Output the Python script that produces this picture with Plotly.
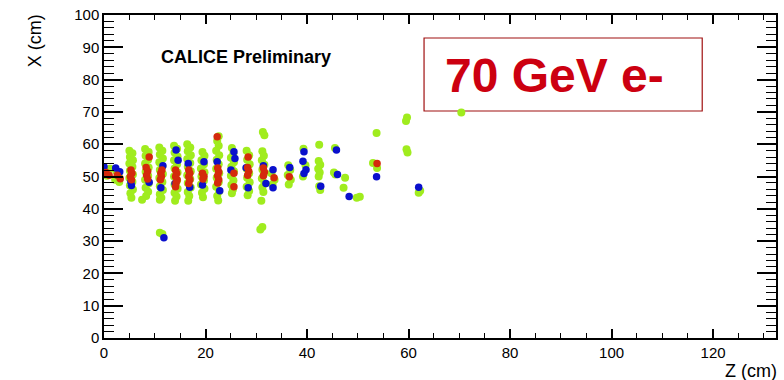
import plotly.graph_objects as go

# ---- data (Z, X in cm) ----
green_z = [0.0, 0.6, 1.2, 2.2, 2.9, 3.0, 2.4,
           5.0, 5.6, 5.1, 5.7, 5.0, 5.6, 5.1, 5.7, 5.0, 5.6, 5.1, 5.7, 5.2, 5.4,
           8.1, 8.8, 8.2, 8.7, 8.1, 8.8, 8.2, 8.7, 8.1, 8.8, 8.2, 8.7, 8.3, 7.5,
           10.9, 11.5, 11.0, 11.6, 10.9, 11.5, 11.0, 11.6, 10.9, 11.5, 11.0, 11.6, 11.0, 11.3, 11.0,
           13.8, 14.4, 13.9, 14.5, 13.8, 14.4, 13.9, 14.5, 13.8, 14.4, 13.9, 14.5, 13.9, 14.3, 14.0,
           16.4, 17.0, 16.5, 17.1, 16.4, 17.0, 16.5, 17.1, 16.4, 17.0, 16.5, 17.1, 16.5, 16.8, 16.6,
           19.4, 19.8, 19.2, 19.7, 19.1, 19.8, 19.2, 19.7, 19.1, 19.8, 19.3, 19.5,
           22.6, 22.3, 22.6, 22.1, 22.7, 22.2, 22.6, 22.1, 22.7, 22.2, 22.6, 22.1, 22.7, 22.3, 22.5,
           25.2, 25.5, 25.0, 25.6, 25.1, 25.6, 25.0, 25.5, 25.1, 25.4, 25.2,
           28.1, 28.6, 28.2, 28.7, 28.1, 28.6, 28.2, 28.7, 28.1, 28.6, 28.3,
           31.3, 31.6, 31.2, 31.5, 31.1, 31.6, 31.2, 31.5, 31.1, 31.6, 31.2, 31.4, 31.0,
           33.0, 33.6, 33.2,
           36.3, 36.7, 36.2, 36.8, 36.4,
           39.3, 39.7, 39.2,
           42.4, 42.3, 42.6, 42.2, 42.5, 42.3, 42.4, 42.6,
           45.5, 45.3, 45.6,
           47.5, 47.2,
           50.4, 49.8,
           53.7, 53.0, 53.8,
           59.7, 59.5, 59.6, 59.8,
           62.3, 62.0,
           70.4,
           11.0, 11.5, 31.2, 30.8]
green_x = [51.5, 50.2, 52.4, 49.0, 50.5, 48.3, 51.8,
           58.0, 57.2, 56.0, 55.0, 54.0, 53.0, 51.8, 50.6, 49.5, 48.4, 47.2, 46.0, 44.8, 43.4,
           58.5, 57.6, 56.4, 55.2, 54.0, 52.8, 51.5, 50.2, 49.0, 47.8, 46.5, 45.3, 44.0, 42.8,
           59.0, 58.0, 56.8, 55.6, 54.4, 53.2, 52.0, 50.8, 49.5, 48.3, 47.0, 45.8, 44.5, 43.4, 42.8,
           59.5, 58.6, 57.4, 56.2, 55.0, 53.8, 52.5, 51.2, 50.0, 48.8, 47.5, 46.2, 45.0, 43.8, 42.5,
           60.0, 59.0, 57.8, 56.6, 55.4, 54.2, 53.0, 51.6, 50.4, 49.2, 48.0, 46.6, 45.2, 44.0, 42.5,
           57.6, 56.4, 55.0, 53.8, 52.5, 51.3, 50.0, 48.8, 47.5, 46.2, 45.0, 43.6,
           62.5, 61.0, 59.5, 58.0, 56.6, 55.2, 53.8, 52.4, 51.0, 49.6, 48.2, 46.8, 45.4, 44.0, 42.6,
           58.8, 57.2, 55.8, 54.4, 53.0, 51.6, 50.2, 48.8, 47.4, 46.0, 44.8,
           58.0, 56.6, 55.2, 53.8, 52.4, 51.0, 49.6, 48.2, 46.8, 45.5, 44.2,
           63.8, 62.8, 57.8, 56.4, 55.0, 53.6, 52.2, 50.8, 49.4, 48.0, 46.6, 45.2, 42.5,
           51.0, 49.0, 47.5,
           53.5, 52.0, 50.5, 49.0, 47.5,
           58.6, 53.5, 50.0,
           59.8, 54.8, 53.6, 52.4, 51.2, 50.0, 47.0, 45.8,
           58.8, 51.2, 50.6,
           49.6, 46.5,
           43.7, 43.4,
           63.5, 54.2, 52.6,
           68.3, 67.2, 58.4, 57.4,
           45.6, 45.0,
           69.8,
           32.6, 32.2, 34.4, 33.6]

blue_z = [0.0, 2.3, 3.1, 5.3, 5.4, 8.9, 11.6, 11.2, 14.2, 14.6, 14.0, 16.9, 16.6,
          19.7, 19.4, 22.3, 22.8, 25.6, 25.0, 25.8, 28.0, 28.4, 31.4, 31.9, 33.3, 33.3,
          36.6, 39.4, 39.2, 39.8, 39.4, 42.7, 45.8, 46.0, 48.3, 53.7, 62.0, 11.8]
blue_x = [53.0, 52.6, 51.5, 48.4, 47.2, 48.2, 53.3, 46.5, 58.2, 55.0, 47.8, 46.7, 54.0,
          54.6, 47.4, 54.6, 45.6, 57.7, 52.0, 55.6, 52.7, 46.5, 53.3, 47.8, 52.1, 46.5,
          52.8, 57.7, 54.7, 52.1, 50.9, 47.0, 58.2, 50.6, 43.8, 49.9, 46.7, 31.0]

red_z = [0.4, 1.0, 2.6, 3.2,
         5.3, 5.5, 5.2, 5.4,
         8.9, 8.3, 8.6, 8.4, 8.6,
         11.4, 11.2, 11.3, 11.1,
         14.1, 14.3, 14.1, 14.4, 14.2, 14.1,
         16.7, 16.9, 16.7, 16.9, 16.7,
         19.4, 19.7, 19.5,
         22.3, 22.4, 22.6, 22.4, 22.6, 22.4,
         25.6, 25.6,
         28.4, 28.3, 28.5, 28.3,
         31.4, 31.6, 31.4,
         33.5, 36.5, 53.8]
red_x = [51.2, 50.4, 50.4, 49.3,
         52.0, 51.0, 50.0, 49.0,
         56.0, 52.8, 51.6, 50.4, 49.2,
         52.0, 51.0, 50.0, 49.0,
         52.0, 51.0, 50.0, 49.0, 48.0, 46.8,
         52.0, 51.0, 50.0, 49.0, 47.8,
         51.0, 50.0, 49.2,
         62.3, 52.6, 51.4, 50.2, 49.0, 48.0,
         51.0, 46.8,
         56.0, 52.8, 51.6, 50.4,
         52.6, 51.4, 50.2,
         49.6, 49.9, 54.0]

FONT = "Liberation Sans, Arial, Helvetica, sans-serif"

fig = go.Figure()
fig.add_trace(go.Scatter(x=green_z, y=green_x, mode="markers",
                         marker=dict(size=8, color="#a0ec1e"), hoverinfo="skip"))
fig.add_trace(go.Scatter(x=blue_z, y=blue_x, mode="markers",
                         marker=dict(size=7.5, color="#0a10cc"), hoverinfo="skip"))
fig.add_trace(go.Scatter(x=red_z, y=red_x, mode="markers",
                         marker=dict(size=7.5, color="#d42a0c"), hoverinfo="skip"))

W, H = 784, 380
L, R, T, B = 104, 6, 15, 42
pw, ph = W - L - R, H - T - B

def px(xp):
    return (xp - L) / pw

def py(yp):
    return (H - B - yp) / ph

fig.update_layout(
    width=W, height=H,
    margin=dict(l=L, r=R, t=T, b=B),
    plot_bgcolor="white", paper_bgcolor="white",
    showlegend=False,
    font=dict(family=FONT, size=14, color="black"),
    xaxis=dict(range=[0, 132.4], dtick=20, tick0=0, ticks="inside", ticklen=9,
               tickwidth=1.5, tickcolor="black", showline=True, linecolor="black",
               linewidth=1.5, mirror="ticks", showgrid=False, zeroline=False,
               tickfont=dict(size=15),
               minor=dict(dtick=5, ticks="inside", ticklen=5, tickcolor="black",
                          tickwidth=1.2, showgrid=False)),
    yaxis=dict(range=[0, 100], dtick=10, tick0=0, ticks="inside", ticklen=19,
               tickwidth=1.5, tickcolor="black", showline=True, linecolor="black",
               linewidth=1.5, mirror="ticks", showgrid=False, zeroline=False,
               tickfont=dict(size=15),
               minor=dict(dtick=2, ticks="inside", ticklen=10, tickcolor="black",
                          tickwidth=1.2, showgrid=False)),
    shapes=[dict(type="rect", xref="paper", yref="paper",
                 x0=px(425), x1=px(704), y0=py(111), y1=py(38),
                 line=dict(color="#a01010", width=1.2), fillcolor="white", layer="below")],
    annotations=[
        dict(text="70 GeV e-", xref="paper", yref="paper", x=px(444), y=py(75),
             xanchor="left", yanchor="middle", showarrow=False,
             font=dict(family=FONT, size=48, color="#cc0010", weight="bold")),
        dict(text="CALICE Preliminary", xref="paper", yref="paper", x=px(159), y=py(57),
             xanchor="left", yanchor="middle", showarrow=False,
             font=dict(family=FONT, size=18, color="black", weight="bold")),
        dict(text="Z (cm)", xref="paper", yref="paper", x=px(781), y=py(371),
             xanchor="right", yanchor="middle", showarrow=False,
             font=dict(family=FONT, size=18, color="black")),
        dict(text="X (cm)", xref="paper", yref="paper", x=px(35), y=py(41),
             xanchor="center", yanchor="middle", showarrow=False, textangle=-90,
             font=dict(family=FONT, size=18, color="black")),
    ],
)

fig.write_html("out.html", config={"displayModeBar": False},
               post_script="document.body.style.margin='0px';document.body.style.overflow='hidden';")
